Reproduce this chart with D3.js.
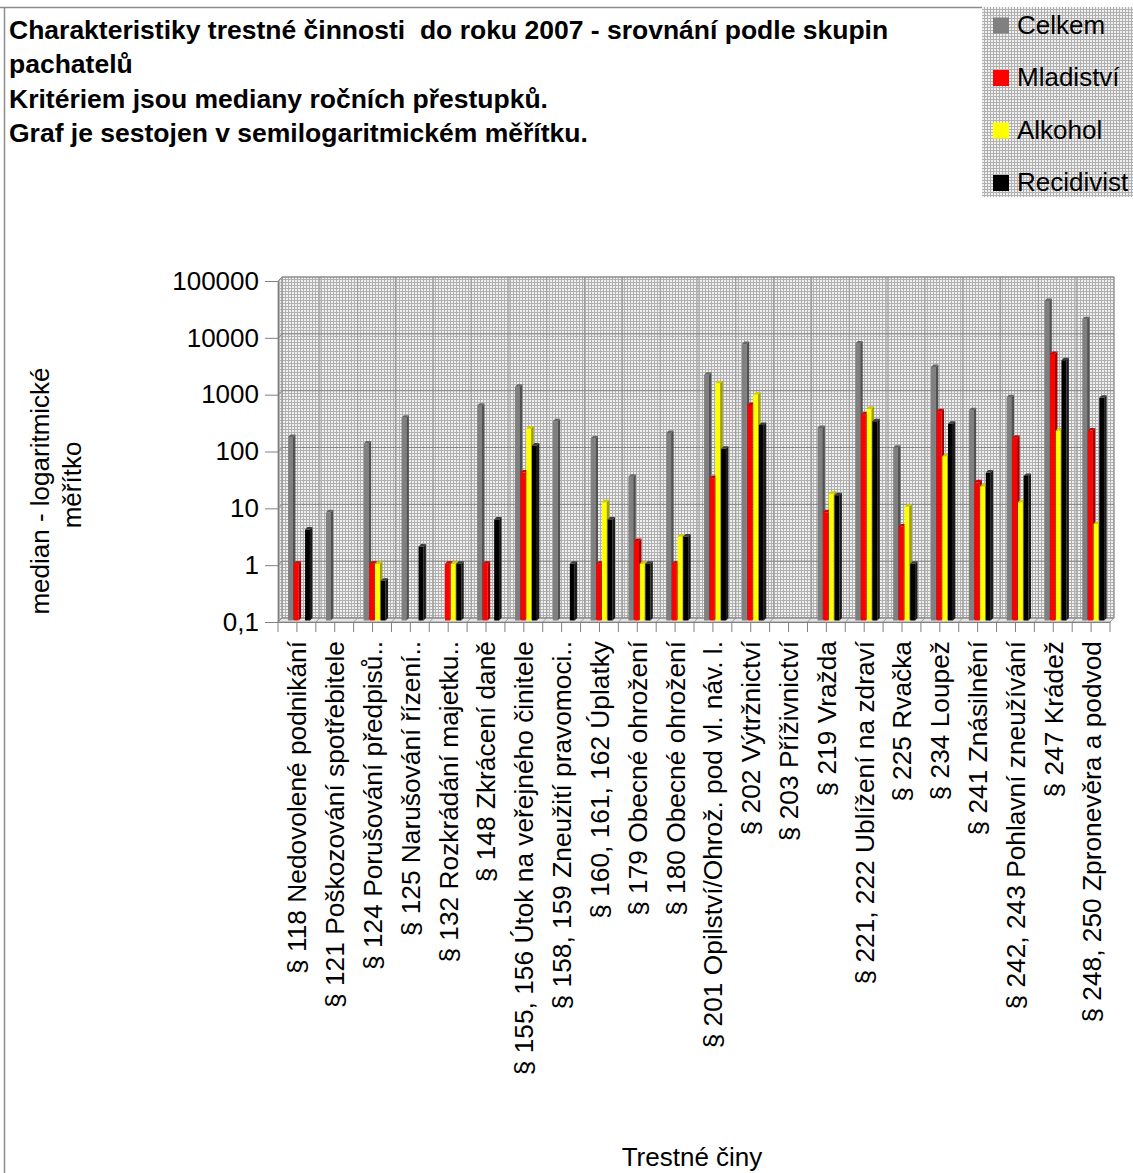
<!DOCTYPE html>
<html>
<head>
<meta charset="utf-8">
<script src="https://cdn.jsdelivr.net/npm/d3@7"></script>
<style>
  body { margin: 0; background: #fff; }
  text { font-family: "Liberation Sans", Arial, sans-serif; fill: #000; }
</style>
</head>
<body>
<svg id="grafico"></svg>
<script>
// dados
const categorias = [
  '§ 118 Nedovolené podnikání',
  '§ 121 Poškozování spotřebitele',
  '§ 124 Porušování předpisů..',
  '§ 125 Narušování řízení..',
  '§ 132 Rozkrádání majetku..',
  '§ 148 Zkrácení daně',
  '§ 155, 156 Útok na veřejného činitele',
  '§ 158, 159 Zneužití pravomoci..',
  '§ 160, 161, 162 Úplatky',
  '§ 179 Obecné ohrožení',
  '§ 180 Obecné ohrožení',
  '§ 201 Opilství/Ohrož. pod vl. náv. l.',
  '§ 202 Výtržnictví',
  '§ 203 Příživnictví',
  '§ 219 Vražda',
  '§ 221, 222 Ublížení na zdraví',
  '§ 225 Rvačka',
  '§ 234 Loupež',
  '§ 241 Znásilnění',
  '§ 242, 243 Pohlavní zneužívání',
  '§ 247 Krádež',
  '§ 248, 250 Zpronevěra a podvod'
]
const celkem     = [170, 8, 130, 370, null, 600, 1300, 320, 160, 34, 200, 2100, 7300, null, 245, 7500, 110, 2900, 500, 850, 42000, 20000]
const mladistvi  = [1, null, 1, null, 1, 1, 40, null, 1, 2.5, 1, 32, 620, null, 8, 420, 4.5, 480, 27, 165, 4900, 220]
const alkohol    = [null, null, 1, null, 1, null, 240, null, 12, 1, 3, 1500, 950, null, 17, 530, 10, 78, 23, 12, 220, 5]
const recidivist = [4, null, 0.5, 2, 1, 6, 120, 1, 6, 1, 3, 105, 275, null, 16, 320, 1, 290, 40, 35, 3800, 830]

const nomesSerie = ['Celkem', 'Mladiství', 'Alkohol', 'Recidivist']
const coresSerie = ['#808080', '#ff0000', '#ffff00', '#000000']
const ticksY = [0.1, 1, 10, 100, 1000, 10000, 100000]
const titulo = [
  'Charakteristiky trestné činnosti  do roku 2007 - srovnání podle skupin',
  'pachatelů',
  'Kritériem jsou mediany ročních přestupků.',
  'Graf je sestojen v semilogaritmickém měřítku.'
]
const tituloY = ['median - logaritmické', 'měřítko']
const tituloX = 'Trestné činy'

const series = nomesSerie.map((nome, k) => ({
  nome: nome,
  cor: coresSerie[k],
  valores: [celkem, mladistvi, alkohol, recidivist][k]
}))

const svg = d3.select('#grafico').attr('width', 1133).attr('height', 1173)

// textura pontilhada do fundo
const pat = svg.append('defs').append('pattern')
  .attr('id', 'textura').attr('width', 3).attr('height', 3)
  .attr('patternUnits', 'userSpaceOnUse')
pat.append('rect').attr('width', 3).attr('height', 3).attr('fill', '#f0f0f0')
pat.append('rect').attr('width', 3).attr('height', 1).attr('fill', '#b0b0b0')
pat.append('rect').attr('width', 1).attr('height', 3).attr('fill', '#b0b0b0')

// moldura
svg.append('path')
  .attr('d', 'M0,7.5H982M4.5,7.5V1173')
  .attr('stroke', '#8c8c8c').attr('stroke-width', 1.5).attr('fill', 'none')

// titulo
svg.append('g').selectAll('text').data(titulo).join('text')
  .attr('x', 9)
  .attr('y', (d, i) => [39, 73, 108, 142][i])
  .style('font-size', '26.5px').style('font-weight', 'bold')
  .style('white-space', 'pre')
  .text(d => d)

// area de plotagem
const x0 = 278, x1 = 1110, yTopo = 281, yBase = 622, prof = 4

const fnX = d3.scaleBand().domain(categorias).range([x0, x1])
  .paddingInner(0.4).paddingOuter(0.2)
const fnS = d3.scaleBand().domain(nomesSerie).range([0, fnX.bandwidth()])
const fnY = d3.scaleLog().domain([0.1, 100000]).range([yBase, yTopo])

const plot = svg.append('g')

// parede de fundo, lateral e chao
plot.append('rect')
  .attr('x', x0 + prof).attr('y', yTopo - prof)
  .attr('width', x1 - x0).attr('height', yBase - yTopo)
  .attr('fill', 'url(#textura)').attr('stroke', '#9a9a9a')
plot.append('path')
  .attr('d', `M${x0},${yTopo}L${x0 + prof},${yTopo - prof}V${yBase - prof}L${x0},${yBase}Z`)
  .attr('fill', 'url(#textura)').attr('stroke', '#9a9a9a')
plot.append('path')
  .attr('d', `M${x0},${yBase}L${x0 + prof},${yBase - prof}H${x1 + prof}L${x1},${yBase}Z`)
  .attr('fill', '#e6e6e6').attr('stroke', '#9a9a9a')

// grade vertical nas divisas das categorias
const divisas = d3.range(categorias.length + 1).map(i => x0 + i * fnX.step())
plot.append('g').selectAll('line').data(divisas).join('line')
  .attr('x1', d => d + prof).attr('x2', d => d + prof)
  .attr('y1', yTopo - prof).attr('y2', yBase - prof)
  .attr('stroke', '#9a9a9a')
plot.append('g').selectAll('line').data(divisas).join('line')
  .attr('x1', d => d).attr('x2', d => d + prof)
  .attr('y1', yBase).attr('y2', yBase - prof)
  .attr('stroke', '#9a9a9a')

// grade horizontal (decadas)
plot.append('g').selectAll('path').data(ticksY).join('path')
  .attr('d', d => `M${x0},${fnY(d)}L${x0 + prof},${fnY(d) - prof}H${x1 + prof}`)
  .attr('fill', 'none').attr('stroke', '#858585')

// eixo Y
const eixoY = d3.axisLeft(fnY)
  .tickValues(ticksY)
  .tickFormat(d => String(d).replace('.', ','))
  .tickSize(13).tickSizeOuter(0).tickPadding(6)
const gY = plot.append('g').attr('transform', `translate(${x0},0)`).call(eixoY)
gY.select('.domain').attr('stroke', '#808080')
gY.selectAll('.tick line').attr('stroke', '#808080')
gY.selectAll('.tick text').style('font-size', '26px').attr('fill', '#000')
  .style('font-family', '"Liberation Sans", Arial, sans-serif')

// eixo X
const eixoX = d3.axisBottom(fnX).tickSize(10).tickSizeOuter(0)
const gX = plot.append('g').attr('transform', `translate(0,${yBase})`).call(eixoX)
gX.select('.domain').attr('stroke', '#808080')
gX.selectAll('.tick line').attr('stroke', '#808080')
gX.selectAll('.tick text')
  .style('font-size', '26.3px').attr('fill', '#000')
  .style('font-family', '"Liberation Sans", Arial, sans-serif')
  .attr('text-anchor', 'end')
  .attr('transform', 'rotate(-90)')
  .attr('x', -19).attr('y', 0).attr('dy', '0.36em')
gX.append('g').selectAll('line').data(divisas).join('line')
  .attr('x1', d => d).attr('x2', d => d)
  .attr('y1', 0).attr('y2', 10)
  .attr('stroke', '#808080')

// barras 3D
const dd = 2.5, desloc = 2.5
const faceTopo = c => c === '#000000' ? '#3c3c3c' : d3.color(c).darker(0.6)
const faceLado = c => c === '#000000' ? '#1c1c1c' : d3.color(c).darker(1.3)

const gruposSerie = plot.append('g').selectAll('g').data(series).join('g')
const barras = gruposSerie.selectAll('g')
  .data(s => s.valores
    .map((v, i) => ({ valor: v, chave: categorias[i], serie: s.nome, cor: s.cor }))
    .filter(d => d.valor != null))
  .join('g')
  .attr('transform', d => `translate(${fnX(d.chave) + fnS(d.serie) + desloc},${-desloc + 1})`)

const larg = fnS.bandwidth() - 0.8
barras.append('rect')
  .attr('x', 0).attr('y', d => fnY(d.valor))
  .attr('width', larg).attr('height', d => yBase - fnY(d.valor))
  .attr('fill', d => d.cor)
barras.append('path')
  .attr('d', d => `M${larg},${fnY(d.valor)}l${dd},${-dd}V${yBase - dd}l${-dd},${dd}Z`)
  .attr('fill', d => faceLado(d.cor))
barras.append('path')
  .attr('d', d => `M0,${fnY(d.valor)}l${dd},${-dd}h${larg}l${-dd},${dd}Z`)
  .attr('fill', d => faceTopo(d.cor))

// titulos dos eixos
svg.append('text')
  .attr('transform', 'translate(40,491) rotate(-90)')
  .attr('text-anchor', 'middle').attr('dy', '0.35em')
  .style('font-size', '26px').text(tituloY[0])
svg.append('text')
  .attr('transform', 'translate(72,485) rotate(-90)')
  .attr('text-anchor', 'middle').attr('dy', '0.35em')
  .style('font-size', '26px').text(tituloY[1])
svg.append('text')
  .attr('x', 692).attr('y', 1166)
  .attr('text-anchor', 'middle')
  .style('font-size', '26px').text(tituloX)

// legenda
const leg = svg.append('g')
leg.append('rect')
  .attr('x', 982).attr('y', 7).attr('width', 151).attr('height', 190)
  .attr('fill', 'url(#textura)')
const itens = leg.selectAll('g.item').data(series).join('g')
  .attr('class', 'item')
  .attr('transform', (d, i) => `translate(0,${33.5 + i * 52.5})`)
itens.append('rect')
  .attr('x', 993).attr('y', -16).attr('width', 16).attr('height', 16)
  .attr('fill', d => d.cor)
itens.append('text')
  .attr('x', 1017).attr('y', 0)
  .style('font-size', '26px')
  .text(d => d.nome)
</script>
</body>
</html>
